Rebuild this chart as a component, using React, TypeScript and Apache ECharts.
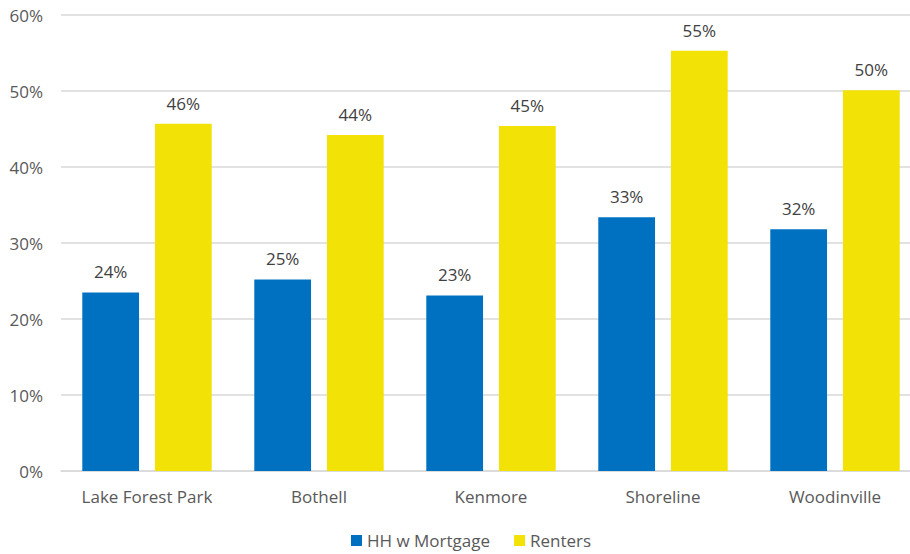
import React, { useEffect, useRef } from "react";
import * as echarts from "echarts";

const categories = ["Lake Forest Park", "Bothell", "Kenmore", "Shoreline", "Woodinville"];
const mortgage = [0.235, 0.252, 0.231, 0.334, 0.318];
const renters = [0.457, 0.442, 0.454, 0.553, 0.501];
const seriesNames = ["HH w Mortgage", "Renters"];
const colors = ["#0070C0", "#F2E205"];

const FONT = "'Open Sans', 'Noto Sans', sans-serif";
const pct = (v: number) => Math.round(v * 100) + "%";

export default function App() {
  const ref = useRef<HTMLDivElement>(null);
  useEffect(() => {
    const chart = echarts.init(ref.current!, null, { renderer: "svg" });
    chart.setOption({
      animation: false,
      textStyle: { fontFamily: FONT },
      grid: { left: 61, right: -11, top: 15, bottom: 83, containLabel: false, outerBoundsMode: "none" },
      legend: {
        bottom: 0,
        left: 346,
        itemWidth: 11,
        itemHeight: 11,
        itemGap: 24,
        icon: "rect",
        textStyle: { color: "#595959", fontSize: 17, fontFamily: FONT },
        data: seriesNames,
      },
      xAxis: {
        type: "category",
        data: categories,
        axisLine: { lineStyle: { color: "#d9d9d9", width: 1.5 } },
        axisTick: { show: false },
        axisLabel: { color: "#595959", fontSize: 17, margin: 17, interval: 0, fontFamily: FONT },
      },
      yAxis: {
        type: "value",
        min: 0,
        max: 0.6,
        interval: 0.1,
        axisLabel: { color: "#595959", fontSize: 17, margin: 18, fontFamily: FONT, formatter: (v: number) => pct(v) },
        splitLine: { lineStyle: { color: "#d9d9d9", width: 1.5 } },
        axisLine: { show: false },
        axisTick: { show: false },
      },
      series: [
        {
          name: seriesNames[0],
          type: "bar",
          data: mortgage,
          itemStyle: { color: colors[0] },
          barWidth: "33%",
          barGap: "28%",
          label: { show: true, position: "top", distance: 12, color: "#404040", fontSize: 17, fontFamily: FONT, formatter: (p: any) => pct(p.value) },
        },
        {
          name: seriesNames[1],
          type: "bar",
          data: renters,
          itemStyle: { color: colors[1] },
          barWidth: "33%",
          barGap: "28%",
          label: { show: true, position: "top", distance: 12, color: "#404040", fontSize: 17, fontFamily: FONT, formatter: (p: any) => pct(p.value) },
        },
      ],
    });
    return () => chart.dispose();
  }, []);
  return <div ref={ref} style={{ width: 910, height: 554, position: "absolute", left: 0, top: 0 }} />;
}
